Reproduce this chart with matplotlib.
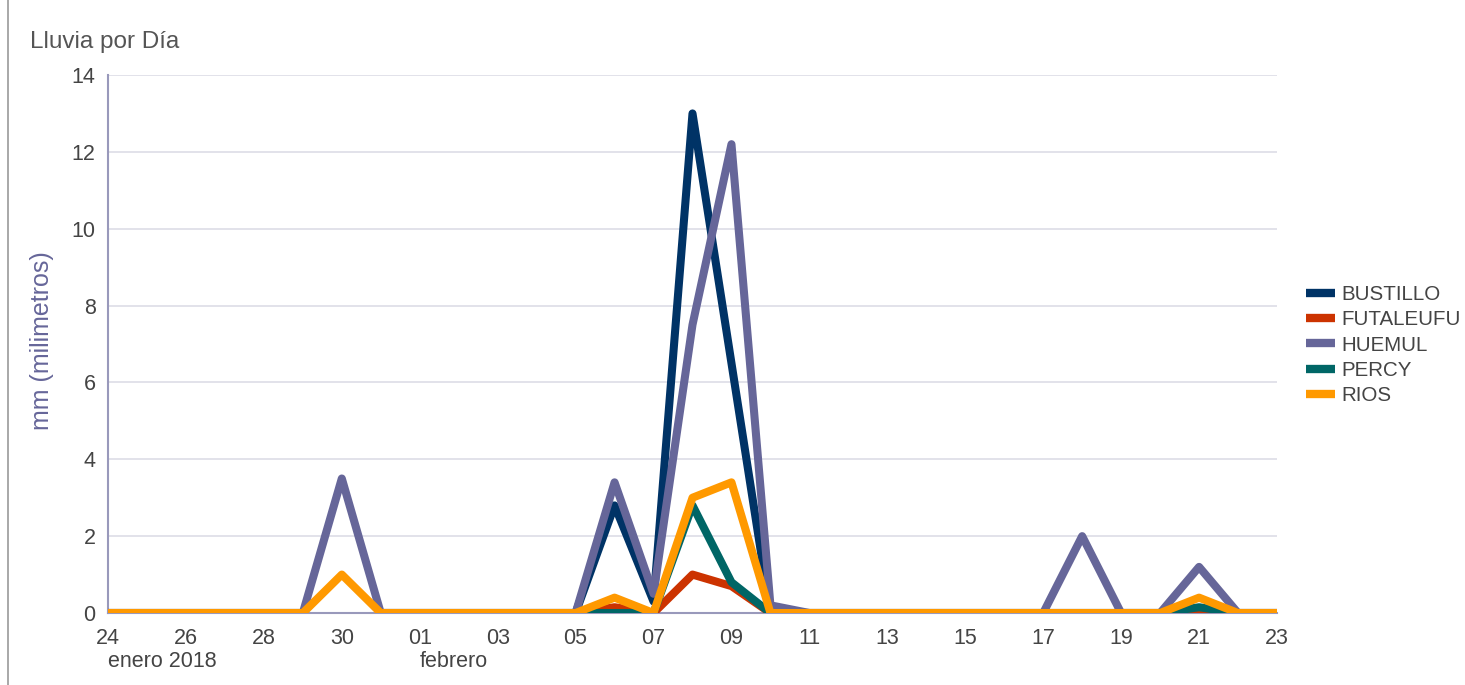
import numpy as np
import pandas as pd
import matplotlib
matplotlib.use("Agg")
import matplotlib.pyplot as plt
from matplotlib.lines import Line2D
import matplotlib.transforms as mtransforms

plt.rcParams["font.family"] = ["Liberation Sans", "DejaVu Sans"]

nan = np.nan
dates = pd.date_range("2018-01-24", "2018-02-23", freq="D")

# daily rain (mm), Jan 24 .. Feb 23 (nan = no reading)
bustillo = [0, 0, 0, 0, 0, 0, nan, 0, 0, 0, 0, 0, 0, 2.8, 0.3, 13.0, 6.5, 0,
            0, 0, 0, 0, 0, 0, 0, 0, 0, 0, 0, 0, 0]
futaleufu = [0, 0, 0, 0, 0, 0, nan, 0, 0, 0, 0, 0, 0, 0.15, 0, 1.0, 0.7, 0,
             0, 0, 0, 0, 0, 0, 0, 0, 0, 0, 0, 0, 0]
huemul = [0, 0, 0, 0, 0, 0, 3.5, 0, 0, 0, 0, 0, 0, 3.4, 0.5, 7.5, 12.2, 0.2,
          0, 0, 0, 0, 0, 0, 0, 2.0, 0, 0, 1.2, 0, 0]
percy = [0, 0, 0, 0, 0, 0, nan, 0, 0, 0, 0, 0, 0, 0, 0, 2.8, 0.8, 0,
         0, 0, 0, 0, 0, 0, 0, 0, 0, 0, 0.15, 0, 0]
rios = [0, 0, 0, 0, 0, 0, 1.0, 0, 0, 0, 0, 0, 0, 0.4, 0, 3.0, 3.4, 0,
        0, 0, 0, 0, 0, 0, 0, 0, 0, 0, 0.4, 0, 0]

series = {
    "BUSTILLO": (bustillo, "#003366"),
    "FUTALEUFU": (futaleufu, "#cc3300"),
    "HUEMUL": (huemul, "#666699"),
    "PERCY": (percy, "#006666"),
    "RIOS": (rios, "#ff9900"),
}

text_col = "#444444"

fig = plt.figure(figsize=(14.65, 6.85), dpi=100)
ax = fig.add_axes([108 / 1465, 1 - 613 / 685, (1277 - 108) / 1465, (613 - 75) / 685])

x = list(range(len(dates)))
handles = []
for name, (vals, col) in series.items():
    ax.plot(x, vals, color=col, lw=5.8, solid_joinstyle="round", solid_capstyle="butt",
            zorder=3)
    handles.append(Line2D([0], [0], color=col, lw=6, solid_capstyle="butt"))

ax.set_xlim(0, len(dates) - 1)
ax.set_ylim(0, 14)
ax.set_yticks(range(0, 15, 2))
ax.set_xticks(x[::2])
ax.set_xticklabels([d.strftime("%d") for d in dates[::2]])
ax.tick_params(axis="x", length=0, labelsize=15.5, colors=text_col, pad=11)
ax.tick_params(axis="y", length=0, labelsize=15.5, colors=text_col, pad=9)
ax.grid(axis="y", color="#dddde6", lw=1.2)
ax.set_axisbelow(True)
for s in ["top", "right"]:
    ax.spines[s].set_visible(False)
for s in ["left", "bottom"]:
    ax.spines[s].set_color("#9999bb")
    ax.spines[s].set_linewidth(1.5)
    ax.spines[s].set_zorder(2)

trans = mtransforms.blended_transform_factory(ax.transData, ax.transAxes)
ax.text(0.0, -0.09, "enero 2018", transform=trans, fontsize=15.5, color=text_col,
        ha="left", va="center")
ax.text(8.0, -0.09, "febrero", transform=trans, fontsize=15.5, color=text_col,
        ha="left", va="center")

fig.text(42 / 1465, 1 - 341 / 685, "mm (milimetros)", fontsize=18, color="#666699",
         rotation=90, ha="center", va="center")
fig.text(30 / 1465, 1 - 42 / 685, "Lluvia por Día", fontsize=17.5, color="#555555",
         ha="left", va="center")

fig.legend(handles, list(series.keys()), loc="upper left",
           bbox_to_anchor=(1298 / 1465, 1 - 277 / 685), frameon=False,
           fontsize=14.8, labelcolor=text_col, handlelength=1.4, handletextpad=0.3,
           labelspacing=0.3, borderaxespad=0)

fig.add_artist(Line2D([8 / 1465, 8 / 1465], [0, 1], color="#999999", lw=1.2))

fig.savefig("out.png", dpi=100, facecolor="white")
